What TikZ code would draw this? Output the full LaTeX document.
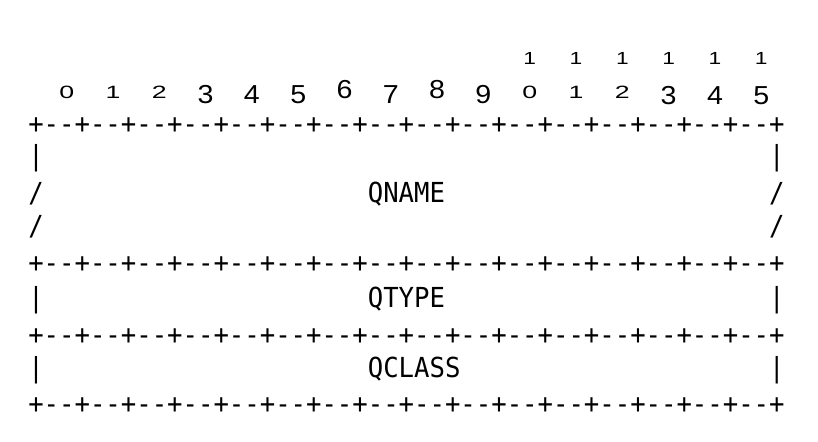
\documentclass[tikz,border=0pt]{standalone}
\usepackage{fontspec}
\setmonofont{DejaVu Sans Mono}[FakeStretch=0.93]
\newfontfamily\digitfont{Liberation Sans}
\tikzset{
  ascii/.style={font=\ttfamily\fontsize{27.57}{30}\selectfont, inner sep=0pt, anchor=base west},
  bit/.style={font=\digitfont\fontsize{#1}{30}\selectfont, inner sep=0pt, anchor=base}
}
\begin{document}
\begin{tikzpicture}[x=15.435pt, y=-1pt]
 \useasboundingbox (-1.8206,0) rectangle (51.177,442);
 % bit numbers
 \foreach \n in {10,...,15}
   \node[bit=17.5] (tens\n) at (2.5+3*\n,64) {\scalebox{1.3}[1]{1}};
 \foreach \n/\d/\s/\w/\b in {0/0/17.8/1.5/99, 1/1/17.8/1.5/99, 2/2/17.8/1.5/99,
     3/3/26/1.1/103.5, 4/4/26/1.1/103.5, 5/5/26/1.1/103.5, 6/6/26/1.1/98.5,
     7/7/26/1.1/103.5, 8/8/26/1.1/98.5, 9/9/26/1.1/103.5, 10/0/17.8/1.5/99,
     11/1/17.8/1.5/99, 12/2/17.8/1.5/99, 13/3/26/1.1/104, 14/4/26/1.1/104,
     15/5/26/1.1/104}
   \node[bit=\s] (bit\n) at (2.5+3*\n,\b) {\scalebox{\w}[1]{\d}};
 % rules
 \foreach \b [count=\i] in {133.5,273,345,414}
   \node[ascii] (rule\i) at (0,\b) {+--+--+--+--+--+--+--+--+--+--+--+--+--+--+--+--+};
 % QNAME
 \node[ascii] (qnamel1) at (0,166) {|};
 \node[ascii] (qnamer1) at (48,166) {|};
 \node[ascii] (qnamel2) at (0,202.5) {/};
 \node[ascii] (qname) at (22,202.5) {QNAME};
 \node[ascii] (qnamer2) at (48,202.5) {/};
 \node[ascii] (qnamel3) at (0,236) {/};
 \node[ascii] (qnamer3) at (48,236) {/};
 % QTYPE
 \node[ascii] (qtypel) at (0,307.5) {|};
 \node[ascii] (qtype) at (22,307.5) {QTYPE};
 \node[ascii] (qtyper) at (48,307.5) {|};
 % QCLASS
 \node[ascii] (qclassl) at (0,377.5) {|};
 \node[ascii] (qclass) at (22,377.5) {QCLASS};
 \node[ascii] (qclassr) at (48,377.5) {|};
\end{tikzpicture}
\end{document}
